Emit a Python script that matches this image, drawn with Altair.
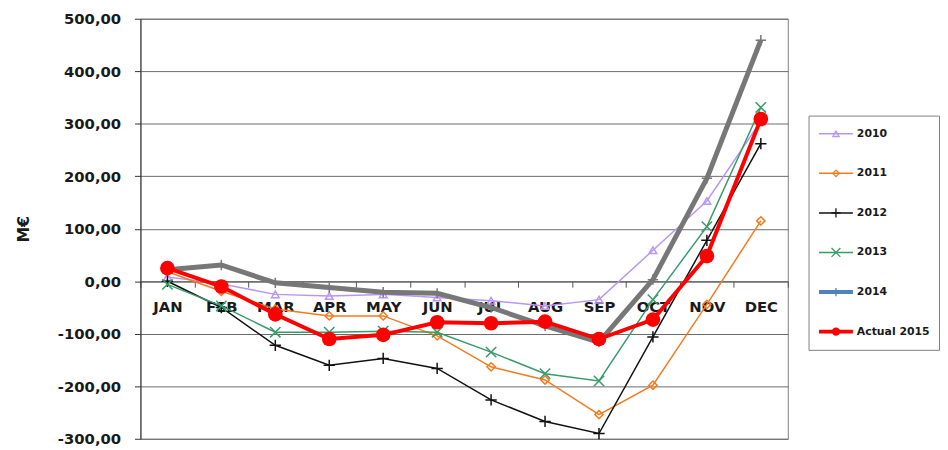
import altair as alt
import pandas as pd

months = ["JAN", "FEB", "MAR", "APR", "MAY", "JUN", "JUL", "AUG", "SEP", "OCT", "NOV", "DEC"]
series_names = ["2010", "2011", "2012", "2013", "2014", "Actual 2015"]
s2010 = [8, -5, -25, -28, -25, -31, -37, -47, -35, 59, 153, 305]
s2011 = [18, -19, -53, -66, -66, -104, -163, -188, -254, -198, -44, 115]
s2012 = [0, -50, -122, -160, -147, -166, -226, -267, -290, -106, 78, 262]
s2013 = [-6, -47, -97, -97, -95, -97, -135, -176, -190, -35, 104, 331]
s2014 = [22, 31, -3, -12, -21, -23, -50, -85, -116, 3, 196, 459]
s2015 = [25, -10, -63, -110, -102, -78, -80, -77, -110, -73, 48, 309]
values = [s2010, s2011, s2012, s2013, s2014, s2015]
y_ticks = [-300, -200, -100, 0, 100, 200, 300, 400, 500]

PLUS = "M-1,0H1M0,-1V1"
XMARK = "M-1,-1L1,1M-1,1L1,-1"

styles = {
    "2010": dict(color="#B896F5", lcolor="#B896F5", width=1.5, shape="triangle-up", size=60, filled=False, lsize=40),
    "2011": dict(color="#F57A1F", lcolor="#F57A1F", width=1.5, shape="diamond", size=70, filled=False, lsize=45),
    "2012": dict(color="#111111", lcolor="#111111", width=1.5, shape=PLUS, size=130, filled=False, lsize=90),
    "2013": dict(color="#3A9A6A", lcolor="#3A9A6A", width=1.5, shape=XMARK, size=110, filled=False, lsize=80),
    "2014": dict(color="#777777", lcolor="#4F81BD", width=5, shape=PLUS, size=110, filled=False, lsize=70),
    "Actual 2015": dict(color="#FF0000", lcolor="#FF0000", width=4, shape="circle", size=220, filled=True, lsize=70),
}

FONT = "DejaVu Sans"
W, H = 655, 425
zero_offset = -H * 300 / 800

x_enc = alt.X(
    "month:N", sort=months,
    scale=alt.Scale(type="band", domain=months, paddingInner=0, paddingOuter=0),
    bandPosition=0.5,
    axis=alt.Axis(title=None, offset=zero_offset, tickBand="extent", labelAngle=0,
                  labelFont=FONT, labelFontWeight="bold", labelFontSize=15, labelColor="#1a1a1a",
                  labelPadding=13, tickSize=6, tickColor="#555555", domainColor="#555555",
                  grid=False, labelBaseline="top"),
)
y_enc = alt.Y(
    "value:Q",
    scale=alt.Scale(domain=[-300, 500], nice=False, zero=False),
    axis=alt.Axis(title="M€", values=y_ticks, grid=True, gridColor="#6a6a6a", gridWidth=1,
                  domainColor="#333333", tickColor="#333333", tickSize=6,
                  labelFont=FONT, labelFontWeight="bold", labelFontSize=15, labelColor="#1a1a1a",
                  labelPadding=14,
                  labelExpr="replace(replace(format(datum.value, '.2f'), '.', ','), '\u2212', '-')",
                  titleFont=FONT, titleFontWeight="bold", titleFontSize=16, titleColor="#1a1a1a",
                  titlePadding=26),
)

layers = []
for name, vals in zip(series_names, values):
    st = styles[name]
    df = pd.DataFrame({"month": months, "value": vals, "series": name})
    base = alt.Chart(df)
    line = base.mark_line(color=st["color"], strokeWidth=st["width"]).encode(x=x_enc, y=y_enc)
    pts = base.mark_point(
        shape=st["shape"], size=st["size"], filled=st["filled"],
        color=st["color"], strokeWidth=1.5 if not st["filled"] else 0, opacity=1,
    ).encode(x=x_enc, y=y_enc)
    layers += [line, pts]

main = alt.layer(*layers).properties(width=W, height=H)

# legend panel
leg_layers = []
ly = alt.Y("series:N", sort=series_names,
           scale=alt.Scale(type="point", domain=series_names, padding=0.46), axis=None)
lx_scale = alt.Scale(domain=[0, 1])
for name in series_names:
    st = styles[name]
    ldf = pd.DataFrame({"series": [name], "x0": [0.08], "x1": [0.34], "xm": [0.21], "xt": [0.37]})
    b = alt.Chart(ldf)
    leg_layers.append(b.mark_rule(color=st["lcolor"], strokeWidth=min(st["width"], 4)).encode(
        x=alt.X("x0:Q", scale=lx_scale, axis=None), x2="x1:Q", y=ly))
    leg_layers.append(b.mark_point(shape=st["shape"], size=st["lsize"], filled=st["filled"],
                                   color=st["lcolor"], strokeWidth=1.3 if not st["filled"] else 0,
                                   opacity=1).encode(
        x=alt.X("xm:Q", scale=lx_scale, axis=None), y=ly))
    leg_layers.append(b.mark_text(align="left", baseline="middle", font=FONT, fontWeight="bold",
                                  fontSize=11, color="#1a1a1a").encode(
        x=alt.X("xt:Q", scale=lx_scale, axis=None), y=ly, text="series:N"))

legend = alt.layer(*leg_layers).properties(width=132, height=237)

chart = alt.hconcat(main, legend, spacing=19, center=True).properties(
    padding={"left": 7, "top": 0, "right": 0, "bottom": 0}
).configure_view(stroke="#808080", strokeWidth=1)

chart.save("out.html", embed_options={"renderer": "svg", "actions": False})
